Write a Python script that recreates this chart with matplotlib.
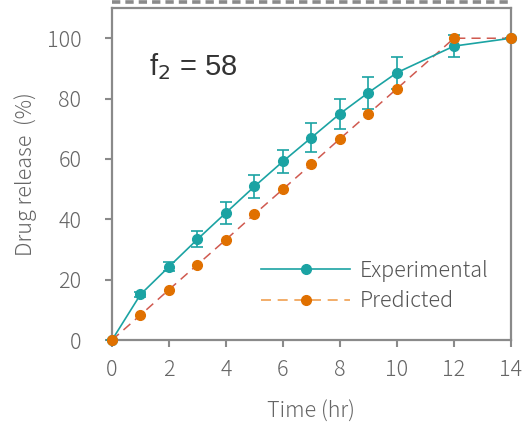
import numpy as np
import matplotlib
matplotlib.use('Agg')
import matplotlib.pyplot as plt
from matplotlib.lines import Line2D

plt.rcParams['font.family'] = ['Noto Sans CJK JP', 'DejaVu Sans']

# data
time_exp = [0, 1, 2, 3, 4, 5, 6, 7, 8, 9, 10, 12, 14]
release_exp = [0, 15.1, 24.3, 33.4, 42.2, 50.9, 59.2, 67.1, 75.0, 82.0, 88.6, 97.4, 100]
err_exp = [0, 0.9, 1.4, 2.6, 3.7, 3.7, 3.9, 4.7, 5.0, 5.3, 5.3, 3.6, 0]
time_pred = [0, 1, 2, 3, 4, 5, 6, 7, 8, 9, 10, 12, 14]
release_pred = [0, 8.3, 16.7, 25.0, 33.3, 41.7, 50.0, 58.3, 66.7, 75.0, 83.3, 100, 100]

TEAL = '#1ba3a3'
ORANGE = '#e07000'
RED = '#d05a50'
GRAY = '#8a8a8a'
TXT = '#666666'

fig = plt.figure(figsize=(5.28, 4.24), dpi=100)
ax = fig.add_axes([0.2121, 0.198, 0.7557, 0.783])

ax.plot(time_pred, release_pred, color=RED, lw=1.1, ls=(0, (6, 4)), zorder=2)
ax.plot(time_pred, release_pred, ls='none', marker='o', ms=7,
        color=ORANGE, zorder=4)
ax.errorbar(time_exp, release_exp, yerr=err_exp, color=TEAL, lw=1.2,
            marker='o', ms=7, capsize=4, elinewidth=1.2, capthick=1.2,
            zorder=3)

ax.set_xlim(0, 14)
ax.set_ylim(0, 110)
ax.set_xticks(range(0, 15, 2))
ax.set_yticks(range(0, 101, 20))
ax.tick_params(direction='out', length=5, width=1.5, color=GRAY,
               labelcolor=TXT, labelsize=15.5)
ax.tick_params(axis='x', pad=9)
ax.tick_params(axis='y', pad=17)
for lbl in ax.get_xticklabels() + ax.get_yticklabels():
    lbl.set_fontweight('light')
for sp in ax.spines.values():
    sp.set_color(GRAY)
    sp.set_linewidth(1.6)
for ln in ax.lines:
    ln.set_clip_on(False)

ax.set_xlabel('Time (hr)', color=TXT, fontsize=15.5, labelpad=14,
              fontweight='light')
ax.set_ylabel('Drug release  (%)', color=TXT, fontsize=15.5, labelpad=7,
              fontweight='light')

ax.text(1.3, 90.7, r'f$_2$ = 58', fontsize=21, color='#333333',
        family='Liberation Sans', ha='left', va='center')

handles = [
    Line2D([], [], color=TEAL, lw=1.2, marker='o', ms=7),
    Line2D([], [], color='#f0a050', lw=1.2, ls=(0, (6, 4)), marker='o',
           ms=7, markerfacecolor=ORANGE, markeredgecolor=ORANGE),
]
leg = ax.legend(handles, ['Experimental', 'Predicted'], loc='center left',
                bbox_to_anchor=(0.353, 0.163), borderaxespad=0,
                frameon=False, fontsize=15.5,
                handlelength=4.1, handletextpad=0.45, labelspacing=0.4)
for t in leg.get_texts():
    t.set_color('#555555')
    t.set_fontweight('light')

# dashed frame line along the top (solid_capstyle irrelevant, butt dashes)
fig.add_artist(Line2D([0.212, 0.967], [1 - 1.8 / 424, 1 - 1.8 / 424],
                      color=GRAY, lw=2.6, ls=(0, (2.3, 1.4)),
                      dash_capstyle='butt', transform=fig.transFigure))

fig.savefig('out.png', dpi=100)
